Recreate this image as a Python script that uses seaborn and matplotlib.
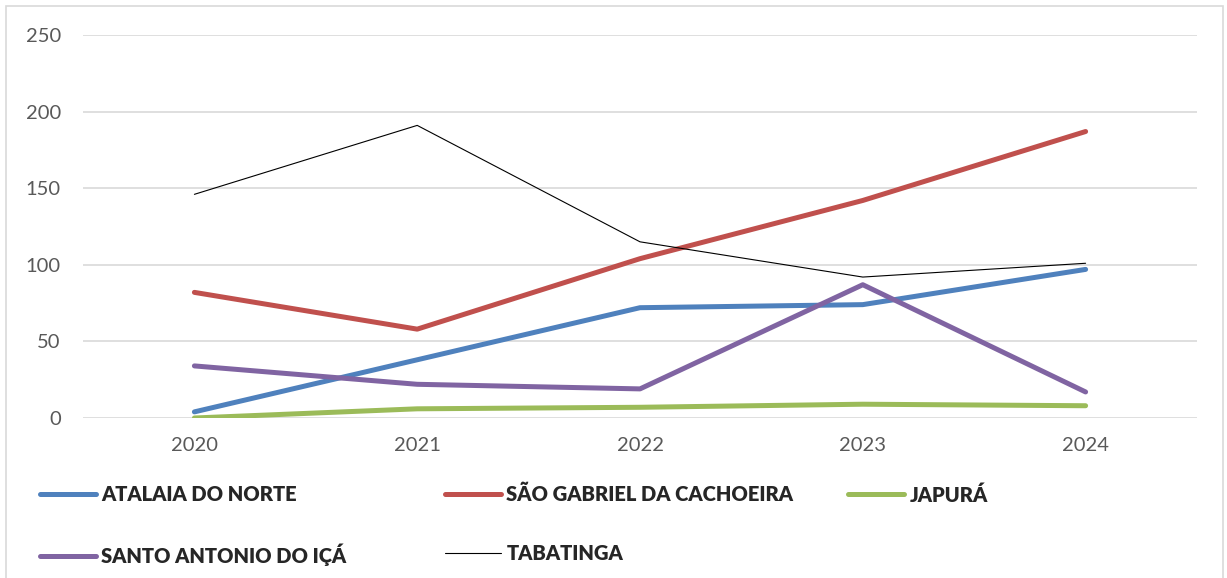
import matplotlib
matplotlib.use("Agg")
import matplotlib.pyplot as plt
import seaborn as sns
import pandas as pd
from matplotlib.patches import Rectangle

years = ["2020", "2021", "2022", "2023", "2024"]
atalaia = [4, 38, 72, 74, 97]
sao_gabriel = [82, 58, 104, 142, 187]
japura = [0, 6, 7, 9, 8]
santo_antonio = [34, 22, 19, 87, 17]
tabatinga = [146, 191, 115, 92, 101]

series_names = ["ATALAIA DO NORTE", "SÃO GABRIEL DA CACHOEIRA", "JAPURÁ",
                "SANTO ANTONIO DO IÇÁ", "TABATINGA"]
series_values = [atalaia, sao_gabriel, japura, santo_antonio, tabatinga]
colors = ["#4F81BD", "#C0504D", "#9BBB59", "#8064A2", "#000000"]
widths = [3.6, 3.6, 3.6, 3.6, 0.8]

sns.set_theme(style="white")
plt.rcParams['font.family'] = ['Lato', 'DejaVu Sans']

fig = plt.figure(figsize=(12.27, 5.78), dpi=100)
W, H = 1227, 578
ax = fig.add_axes([83 / W, 1 - 418 / H, (1197 - 83) / W, (418 - 35) / H])

xpos = list(range(len(years)))
handles = []
for name, vals, c, lw in zip(series_names, series_values, colors, widths):
    df = pd.DataFrame({"x": xpos, "y": vals})
    sns.lineplot(data=df, x="x", y="y", ax=ax, color=c, linewidth=lw,
                 label=name, legend=False, solid_capstyle="round",
                 solid_joinstyle="round")
    handles.append(ax.lines[-1])

ax.set_xlim(-0.5, 4.5)
ax.set_ylim(0, 250)
ax.set_yticks([0, 50, 100, 150, 200, 250])
ax.set_xticks(xpos)
ax.set_xticklabels(years)
ax.set_xlabel("")
ax.set_ylabel("")
ax.yaxis.grid(True, color="#D9D9D9", linewidth=1.2)
ax.xaxis.grid(False)
ax.set_axisbelow(True)
for s in ax.spines.values():
    s.set_visible(False)
ax.tick_params(axis="both", length=0, labelsize=14.5, labelcolor="#595959")
ax.tick_params(axis="y", pad=16)
ax.tick_params(axis="x", pad=14)

# legend in three columns
cols = [([0, 3], 40), ([1, 4], 445), ([2], 848)]
for idx, x0 in cols:
    fig.legend([handles[i] for i in idx], [series_names[i] for i in idx],
               loc="upper left", bbox_to_anchor=(x0 / W, 1 - 485 / H),
               frameon=False, ncol=1, borderpad=0, borderaxespad=0,
               handlelength=2.8, handletextpad=0.25, labelspacing=1.95,
               prop={"weight": "heavy", "size": 14.5})

fig.patches.append(Rectangle((6 / W, -0.01), (1223 - 6) / W, 1.01 - 6 / H,
                             transform=fig.transFigure, fill=False,
                             edgecolor="#D9D9D9", linewidth=1.2))

fig.savefig("out.png", dpi=100, facecolor="white")
